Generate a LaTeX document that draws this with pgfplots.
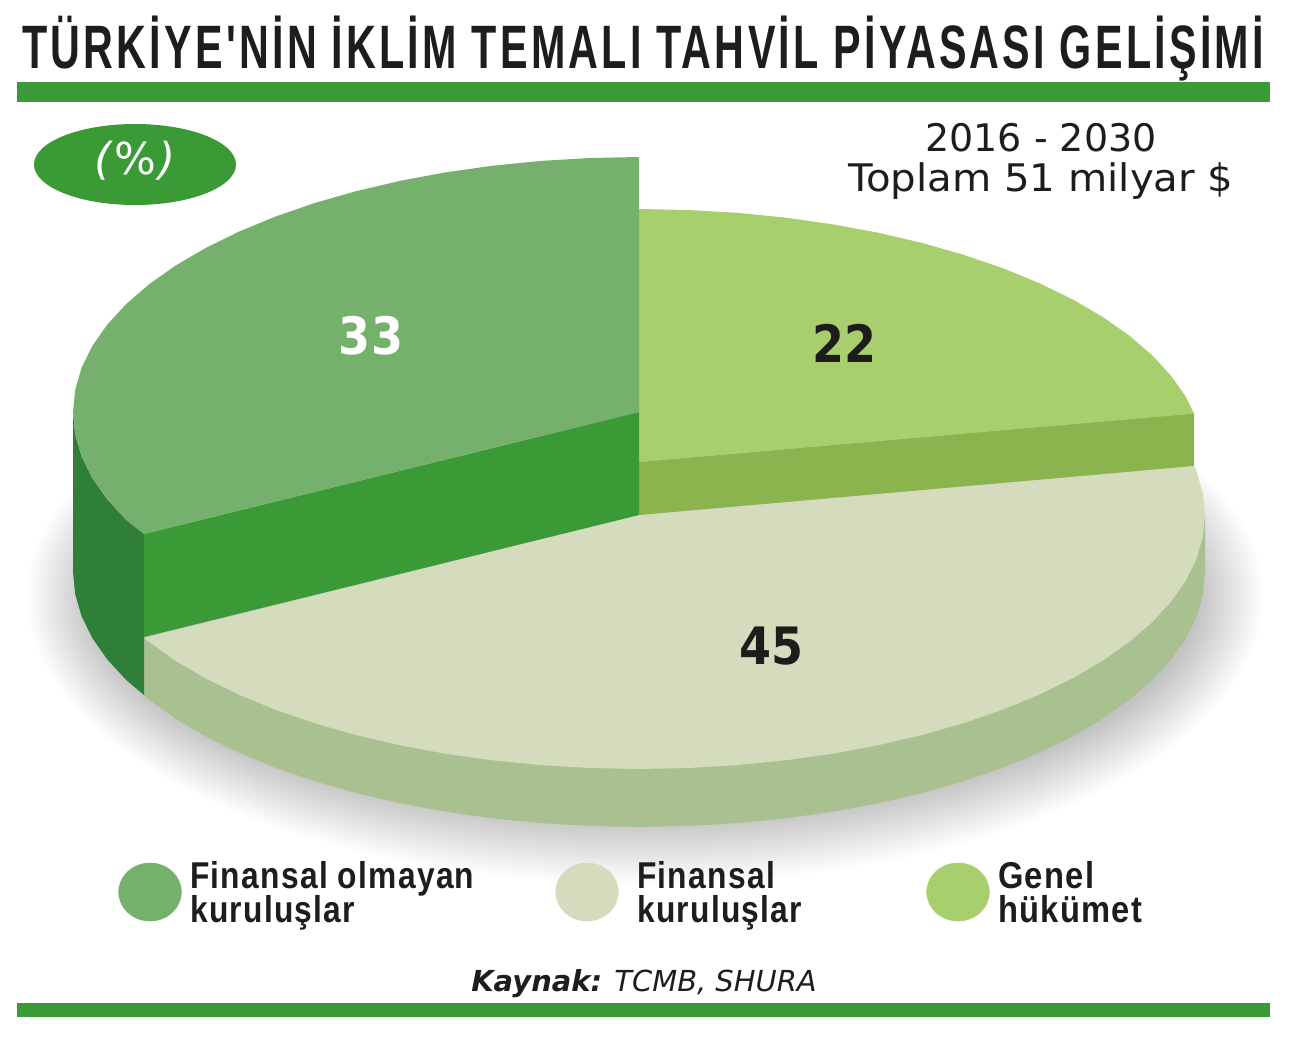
\documentclass[border=0pt]{standalone}
\usepackage{pgfplots}
\pgfplotsset{compat=1.18}
\usepackage{fontspec}
\setmainfont{DejaVu Sans}
\newfontfamily\headfont[LetterSpace=7.9]{Liberation Sans}
\newfontfamily\keyfont[LetterSpace=4.0]{Liberation Sans}

\definecolor{bandgreen}{HTML}{3A9A35}
\definecolor{topA}{HTML}{76B06D}
\definecolor{rimA}{HTML}{2F7F38}
\definecolor{topB}{HTML}{D5DCBE}
\definecolor{sideB}{HTML}{A9C090}
\definecolor{topC}{HTML}{A8CF6E}
\definecolor{sideC}{HTML}{8BB34E}
\definecolor{ink}{HTML}{1D1D1B}

\begin{document}
\begin{tikzpicture}
\begin{axis}[
    width=975pt, height=780pt, scale only axis,
    xmin=0, xmax=1300, ymin=0, ymax=1040, y dir=reverse,
    hide axis, clip=false, no markers,
    every axis plot/.append style={draw=none, forget plot},
]

% page size
\path (axis cs:0,0) -- (axis cs:1300,1040);

% bands
\addplot[fill=bandgreen] coordinates {(17,82) (1270,82) (1270,102) (17,102)} -- cycle;
\addplot[fill=bandgreen] coordinates {(17,1003) (1270,1003) (1270,1017) (17,1017)} -- cycle;

% shadow under the pie
\pgfplotsinvokeforeach{0,...,29}{
  \fill[black, opacity=0.007] (axis cs:645,597) ellipse [x radius={618-2.2*#1}, y radius={287-2.2*#1}];
}

% 45: side, then top
\addplot[fill=sideB] coordinates {
 (1205,515) (1205,573) (1202.8,595.1) (1196.4,617.1) (1185.7,638.7) (1170.9,659.9) (1152,680.3)
 (1129.2,700) (1102.7,718.7) (1072.6,736.3) (1039.2,752.6) (1002.8,767.6) (963.7,781.1) (922,793)
 (878.2,803.2) (832.6,811.7) (785.5,818.3) (737.3,823.1) (688.4,826) (639,827) (589.6,826)
 (540.7,823.1) (492.5,818.3) (445.4,811.7) (399.8,803.2) (356,793) (314.3,781.1) (275.2,767.6)
 (238.8,752.6) (205.4,736.3) (175.3,718.7) (144,696) (144,638)} -- cycle;
\addplot[fill=topB] coordinates {
 (639,515) (1194,466) (1196.4,470.9) (1202.8,492.9) (1205,515) (1202.8,537.1) (1196.4,559.1)
 (1185.7,580.7) (1170.9,601.9) (1152,622.3) (1129.2,642) (1102.7,660.7) (1072.6,678.3) (1039.2,694.6)
 (1002.8,709.6) (963.7,723.1) (922,735) (878.2,745.2) (832.6,753.7) (785.5,760.3) (737.3,765.1)
 (688.4,768) (639,769) (589.6,768) (540.7,765.1) (492.5,760.3) (445.4,753.7) (399.8,745.2) (356,735)
 (314.3,723.1) (275.2,709.6) (238.8,694.6) (205.4,678.3) (175.3,660.7) (144,638)} -- cycle;

% 22: side, then top
\addplot[fill=sideC] coordinates {(639,462) (1194,413) (1194,466) (639,515)} -- cycle;
\addplot[fill=topC] coordinates {
 (639,462) (639,209) (688.4,210) (737.3,212.8) (785.5,217.6) (832.6,224.3) (878.2,232.7) (922,242.9)
 (963.7,254.8) (1002.8,268.2) (1039.2,283.1) (1072.6,299.4) (1102.7,316.9) (1129.2,335.5)
 (1152,355.1) (1170.9,375.5) (1185.7,396.5) (1194,413.7)} -- cycle;

% 33: rim, cut face, top
\addplot[fill=rimA] coordinates {
 (73,412) (75.2,434.2) (81.6,456.3) (92.3,478) (107.1,499.2) (126,519.8) (144,534) (144,695)
 (126,679.8) (107.1,659.2) (92.3,638) (81.6,616.3) (75.2,594.2) (73,572)} -- cycle;
\addplot[fill=bandgreen] coordinates {(639,412) (144,534) (144,637) (639,515)} -- cycle;
\addplot[fill=topA] coordinates {
 (639,412) (639,157) (589.6,158) (540.7,160.9) (492.5,165.7) (445.4,172.4) (399.8,180.9) (356,191.2)
 (314.3,203.1) (275.2,216.7) (238.8,231.7) (205.4,248.1) (175.3,265.7) (148.8,284.5) (126,304.2)
 (107.1,324.8) (92.3,346) (81.6,367.7) (75.2,389.8) (73,412) (75.2,434.2) (81.6,456.3) (92.3,478)
 (107.1,499.2) (126,519.8) (144,534)} -- cycle;

% legend dots
\addplot[only marks, mark=*, mark size=21.75pt, mark options={xscale=1.08, draw=topA, fill=topA}] coordinates {(150,892)};
\addplot[only marks, mark=*, mark size=21.75pt, mark options={xscale=1.08, draw=topB, fill=topB}] coordinates {(587,892)};
\addplot[only marks, mark=*, mark size=21.75pt, mark options={xscale=1.08, draw=topC, fill=topC}] coordinates {(958,892)};

% slice values
\node[text=white, font=\fontsize{34.5pt}{36pt}\bfseries] at (axis cs:371,336) {\scalebox{1}[1.12]{33}};
\node[text=ink, font=\fontsize{34.5pt}{36pt}\bfseries] at (axis cs:844,343) {\scalebox{1}[1.12]{22}};
\node[text=ink, font=\fontsize{34.5pt}{36pt}\bfseries] at (axis cs:771,646) {\scalebox{1}[1.12]{45}};

% title
\node[anchor=base west, inner sep=0pt, text=ink] at (axis cs:22,68)
  {\scalebox{0.673}[1]{\headfont\fontsize{46pt}{50pt}\bfseries TÜRKİYE'NİN İKLİM TEMALI TAHVİL PİYASASI GELİŞİMİ}};

% tag and period
\fill[bandgreen] (axis cs:135,164.5) ellipse [x radius=101, y radius=40.5];
\node[text=white, font=\fontsize{33pt}{36pt}\selectfont] at (axis cs:135,161) {{\itshape(}\kern2pt\%\kern2pt{\itshape)}};
\node[anchor=base, inner sep=0pt, text=ink, font=\fontsize{28.5pt}{30pt}\selectfont] at (axis cs:1041,151) {2016 - 2030};
\node[anchor=base, inner sep=0pt, text=ink, font=\fontsize{28.5pt}{30pt}\selectfont] at (axis cs:1041,191) {\scalebox{1.06}[1]{Toplam 51 milyar \$}};

% legend text
\node[anchor=base west, inner sep=0pt, text=ink] at (axis cs:190,888)
  {\scalebox{0.85}[1]{\keyfont\fontsize{28pt}{30pt}\bfseries Finansal olmayan}};
\node[anchor=base west, inner sep=0pt, text=ink] at (axis cs:190,922)
  {\scalebox{0.85}[1]{\keyfont\fontsize{28pt}{30pt}\bfseries kuruluşlar}};
\node[anchor=base west, inner sep=0pt, text=ink] at (axis cs:637,888)
  {\scalebox{0.85}[1]{\keyfont\fontsize{28pt}{30pt}\bfseries Finansal}};
\node[anchor=base west, inner sep=0pt, text=ink] at (axis cs:637,922)
  {\scalebox{0.85}[1]{\keyfont\fontsize{28pt}{30pt}\bfseries kuruluşlar}};
\node[anchor=base west, inner sep=0pt, text=ink] at (axis cs:998,888)
  {\scalebox{0.875}[1]{\keyfont\fontsize{28pt}{30pt}\bfseries Genel}};
\node[anchor=base west, inner sep=0pt, text=ink] at (axis cs:998,922)
  {\scalebox{0.875}[1]{\keyfont\fontsize{28pt}{30pt}\bfseries hükümet}};

% source
\node[anchor=base, inner sep=0pt, text=ink, font=\fontsize{21.7pt}{24pt}\selectfont] at (axis cs:644,991)
  {{\bfseries\itshape Kaynak:} {\itshape TCMB, SHURA}};
\end{axis}
\end{tikzpicture}
\end{document}
